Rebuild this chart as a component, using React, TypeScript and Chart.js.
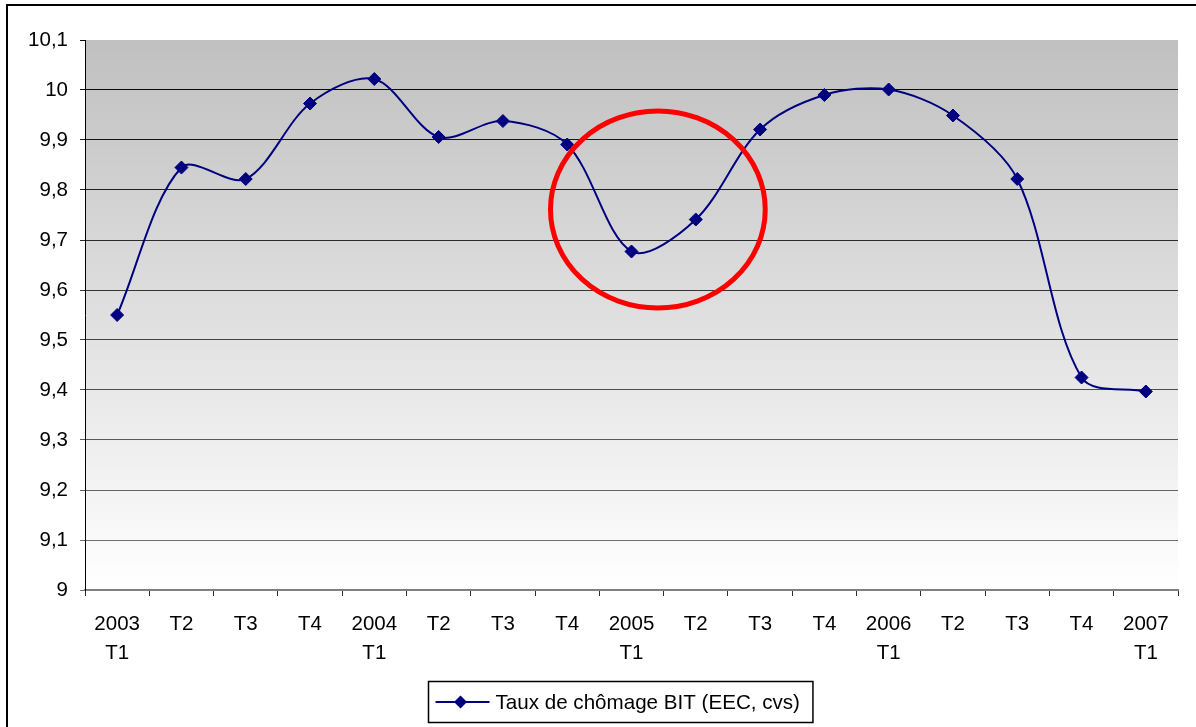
import React, { useEffect, useRef } from "react";
import { Chart, registerables } from "chart.js";

Chart.register(...registerables);

// ---- data ----
const CATEGORIES: (string | string[])[] = [
  ["2003", "T1"], "T2", "T3", "T4",
  ["2004", "T1"], "T2", "T3", "T4",
  ["2005", "T1"], "T2", "T3", "T4",
  ["2006", "T1"], "T2", "T3", "T4",
  ["2007", "T1"],
];
const SERIES_LABEL = "Taux de chômage BIT (EEC, cvs)";
const UNEMPLOYMENT = [
  9.55, 9.845, 9.822, 9.973,
  10.022, 9.906, 9.938, 9.891,
  9.677, 9.741, 9.921, 9.99,
  10.001, 9.949, 9.822, 9.425,
  9.397,
];
const Y_TICKS = [9, 9.1, 9.2, 9.3, 9.4, 9.5, 9.6, 9.7, 9.8, 9.9, 10, 10.1];
const Y_MIN = 9;
const Y_MAX = 10.1;
// red highlight ellipse, in data coordinates (category index / value)
const HIGHLIGHT_CENTER_INDEX = 8.41;
const HIGHLIGHT_CENTER_VALUE = 9.761;
const HIGHLIGHT_HALF_WIDTH = 1.67; // in categories
const HIGHLIGHT_HALF_HEIGHT = 0.197; // in value units

const FONT = "'Liberation Sans', Arial, sans-serif";
const NAVY = "#000080";

function greyFor(v: number): string {
  const t = Math.max(0, Math.min(1, (10 - v) / 0.9));
  const c = Math.round(10 + t * 100);
  return `rgb(${c},${c},${c})`;
}

const backgroundPlugin = {
  id: "plotGradient",
  beforeDraw(chart: any) {
    const { ctx, chartArea } = chart;
    if (!chartArea) return;
    const g = ctx.createLinearGradient(0, chartArea.top, 0, chartArea.bottom);
    g.addColorStop(0, "#c0c0c0");
    g.addColorStop(1, "#ffffff");
    ctx.save();
    ctx.fillStyle = g;
    ctx.fillRect(chartArea.left, chartArea.top, chartArea.right - chartArea.left, chartArea.bottom - chartArea.top);
    ctx.restore();
  },
};

const highlightPlugin = {
  id: "highlightEllipse",
  afterDatasetsDraw(chart: any) {
    const { ctx } = chart;
    const xs = chart.scales.x;
    const ys = chart.scales.y;
    const cx = xs.getPixelForValue(HIGHLIGHT_CENTER_INDEX);
    const catW = xs.getPixelForValue(1) - xs.getPixelForValue(0);
    const cy = ys.getPixelForValue(HIGHLIGHT_CENTER_VALUE);
    const rx = HIGHLIGHT_HALF_WIDTH * catW;
    const ry = Math.abs(ys.getPixelForValue(HIGHLIGHT_CENTER_VALUE + HIGHLIGHT_HALF_HEIGHT) - cy);
    ctx.save();
    ctx.strokeStyle = "#ff0000";
    ctx.lineWidth = 5;
    ctx.beginPath();
    ctx.ellipse(cx, cy, rx, ry, 0, 0, Math.PI * 2);
    ctx.stroke();
    ctx.restore();
  },
};

const legendBoxPlugin = {
  id: "legendBox",
  afterDraw(chart: any) {
    const { ctx, chartArea } = chart;
    const label = chart.data.datasets[0].label as string;
    ctx.save();
    ctx.font = `20.6px ${FONT}`;
    const tw = ctx.measureText(label).width;
    const boxW = tw + 80;
    const boxH = 41;
    const centerX = (chartArea.left + chartArea.right) / 2 - 11;
    const left = Math.round(centerX - boxW / 2) + 0.5;
    const top = chartArea.bottom + 91.5;
    ctx.strokeStyle = "#000";
    ctx.lineWidth = 1.5;
    ctx.strokeRect(left, top, boxW, boxH);
    const midY = top + boxH / 2;
    ctx.strokeStyle = NAVY;
    ctx.lineWidth = 2;
    ctx.beginPath();
    ctx.moveTo(left + 7, midY);
    ctx.lineTo(left + 61, midY);
    ctx.stroke();
    const dx = left + 32;
    ctx.fillStyle = NAVY;
    ctx.beginPath();
    ctx.moveTo(dx - 6.5, midY);
    ctx.lineTo(dx, midY - 6.5);
    ctx.lineTo(dx + 6.5, midY);
    ctx.lineTo(dx, midY + 6.5);
    ctx.closePath();
    ctx.fill();
    ctx.fillStyle = "#000";
    ctx.textBaseline = "middle";
    ctx.textAlign = "left";
    ctx.fillText(label, left + 67, midY + 1);
    ctx.restore();
  },
};

export default function App() {
  const canvasRef = useRef<HTMLCanvasElement | null>(null);

  useEffect(() => {
    const canvas = canvasRef.current;
    if (!canvas) return;
    Chart.defaults.font.family = FONT;
    Chart.defaults.font.size = 20.5;
    Chart.defaults.color = "#000";

    const chart = new Chart(canvas, {
      type: "line",
      data: {
        labels: CATEGORIES as any,
        datasets: [
          {
            label: SERIES_LABEL,
            data: UNEMPLOYMENT,
            borderColor: NAVY,
            backgroundColor: NAVY,
            borderWidth: 2,
            tension: 0.32,
            pointStyle: "rectRot",
            pointRadius: 6.5,
            pointBorderWidth: 1,
            pointBackgroundColor: NAVY,
            pointBorderColor: NAVY,
            fill: false,
          },
        ],
      },
      options: {
        animation: false,
        responsive: false,
        layout: { padding: { left: 0, top: 40, right: 18, bottom: 47 } },
        plugins: {
          legend: { display: false },
          tooltip: { enabled: false },
        },
        scales: {
          x: {
            type: "category",
            offset: true,
            afterFit: (scale: any) => {
              scale.height = 90;
            },
            grid: {
              offset: true,
              drawOnChartArea: false,
              drawTicks: true,
              tickLength: 6,
              tickColor: "#303030",
              color: "#303030",
            },
            border: { color: "#808080", width: 2 },
            ticks: {
              autoSkip: false,
              maxRotation: 0,
              minRotation: 0,
              padding: 14,
              font: { size: 20.5, lineHeight: 1.4 },
              color: "#000",
            },
          },
          y: {
            type: "linear",
            min: Y_MIN,
            max: Y_MAX,
            afterFit: (scale: any) => {
              scale.width = 85;
            },
            afterBuildTicks: (scale: any) => {
              scale.ticks = Y_TICKS.map((v) => ({ value: v }));
            },
            grid: {
              color: (c: any) => {
                const v = c.tick ? c.tick.value : 0;
                if (v > 10.05) return "rgba(0,0,0,0)";
                return greyFor(v);
              },
              tickColor: (c: any) => {
                const v = c.tick ? c.tick.value : 0;
                return greyFor(Math.min(v, 10));
              },
              lineWidth: 1,
              tickLength: 5,
            },
            border: { color: "#000", width: 1 },
            ticks: {
              padding: 12,
              font: { size: 20.5 },
              color: "#000",
              callback: (v: any) => String(Math.round(Number(v) * 10) / 10).replace(".", ","),
            },
          },
        },
      },
      plugins: [backgroundPlugin, highlightPlugin, legendBoxPlugin],
    });
    return () => chart.destroy();
  }, []);

  return (
    <div>
      <div
        style={{
          position: "fixed",
          left: 6,
          top: 4,
          width: 1190,
          height: 723,
          boxSizing: "border-box",
          borderLeft: "2px solid #000",
          borderTop: "2px solid #000",
          pointerEvents: "none",
        }}
      />
      <canvas
        ref={canvasRef}
        width={1196}
        height={727}
        style={{ position: "fixed", left: 0, top: 0, width: 1196, height: 727, display: "block" }}
      />
    </div>
  );
}
